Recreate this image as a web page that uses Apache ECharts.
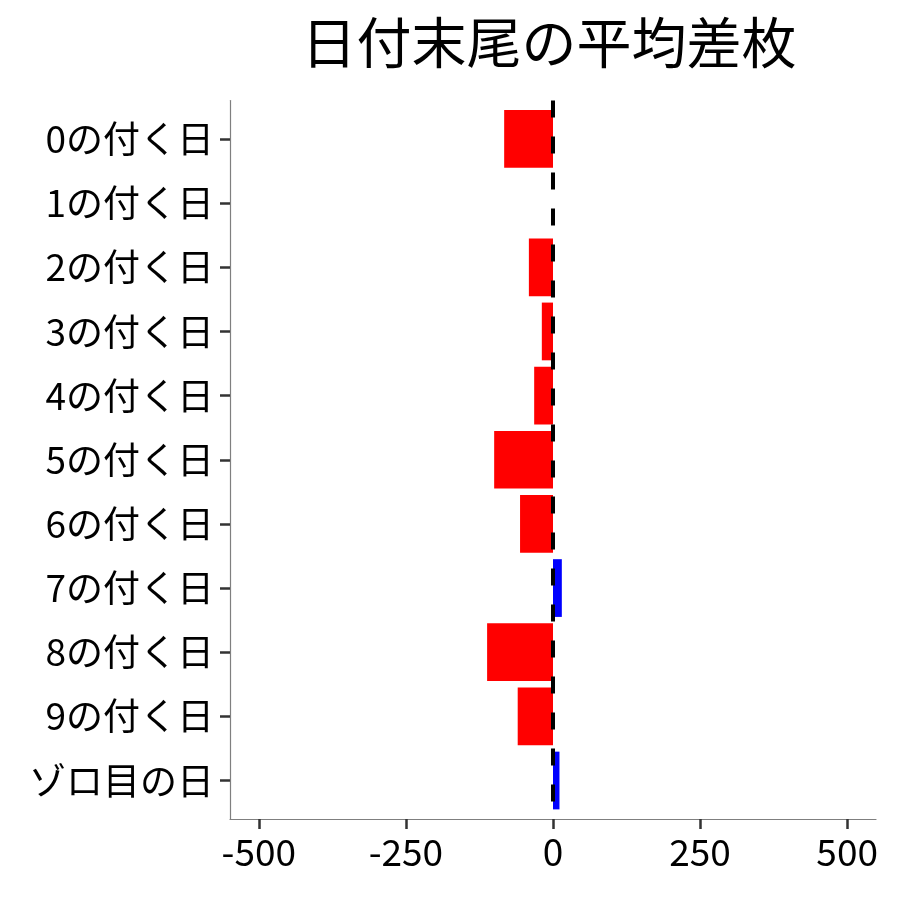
<!DOCTYPE html>
<html>
<head>
<meta charset="utf-8">
<script src="https://cdn.jsdelivr.net/npm/echarts@6/dist/echarts.min.js"></script>
<style>
  html, body { margin: 0; padding: 0; background: #fff; }
  #chart { width: 900px; height: 900px; }
</style>
</head>
<body>
<div id="chart"></div>
<script>
var titleText = '日付末尾の平均差枚';
var categories = ['0の付く日', '1の付く日', '2の付く日', '3の付く日', '4の付く日',
                  '5の付く日', '6の付く日', '7の付く日', '8の付く日', '9の付く日', 'ゾロ目の日'];
var values = [-83, 0, -41, -19, -32, -100, -56, 15, -112, -60, 11];
var xTicks = [-500, -250, 0, 250, 500];

var chart = echarts.init(document.getElementById('chart'));
var font = '"Noto Sans CJK JP", "Noto Sans", sans-serif';

var barData = values.map(function (v, i) { return [v, i]; });
var yTicks = categories.map(function (c, i) { return i; });

chart.setOption({
    animation: false,
    backgroundColor: '#ffffff',
    title: {
        text: titleText,
        left: 544, top: 10, textAlign: 'center',
        textStyle: { fontFamily: font, fontSize: 55, fontWeight: 'normal', color: '#000' }
    },
    grid: { left: 230, right: 24, top: 100.5, bottom: 81, containLabel: false },
    xAxis: {
        type: 'value', min: -549, max: 549,
        splitLine: { show: false },
        axisLine: { show: true, onZero: false, lineStyle: { color: '#7f7f7f', width: 1.2 } },
        axisTick: { show: true, customValues: xTicks, length: 10, lineStyle: { color: '#333', width: 2.5 } },
        axisLabel: { customValues: xTicks, margin: 14, fontFamily: font, fontSize: 37, color: '#000' }
    },
    yAxis: {
        type: 'value', min: -0.6, max: 10.6, inverse: true,
        splitLine: { show: false },
        axisLine: { show: true, onZero: false, lineStyle: { color: '#7f7f7f', width: 1.2 } },
        axisTick: { show: true, customValues: yTicks, length: 10, lineStyle: { color: '#333', width: 2.5 } },
        axisLabel: {
            customValues: yTicks, margin: 16, fontFamily: font, fontSize: 37, color: '#000',
            formatter: function (v) { return categories[Math.round(v)]; }
        }
    },
    series: [
        {
            type: 'custom',
            data: barData,
            renderItem: function (params, api) {
                var v = api.value(0), idx = api.value(1);
                var start = api.coord([0, idx]);
                var end = api.coord([v, idx]);
                var h = api.size([0, 0.9])[1];
                var x0 = Math.min(start[0], end[0]);
                return {
                    type: 'rect',
                    shape: { x: x0, y: start[1] - h / 2, width: Math.abs(end[0] - start[0]), height: h },
                    style: { fill: v < 0 ? '#ff0000' : '#0000ff' }
                };
            },
            z: 2
        },
        {
            type: 'line',
            data: [[0, -0.6], [0, 10.6]],
            symbol: 'none',
            lineStyle: { color: '#000', width: 4, type: [17, 19] },
            z: 3
        }
    ]
});
</script>
</body>
</html>
